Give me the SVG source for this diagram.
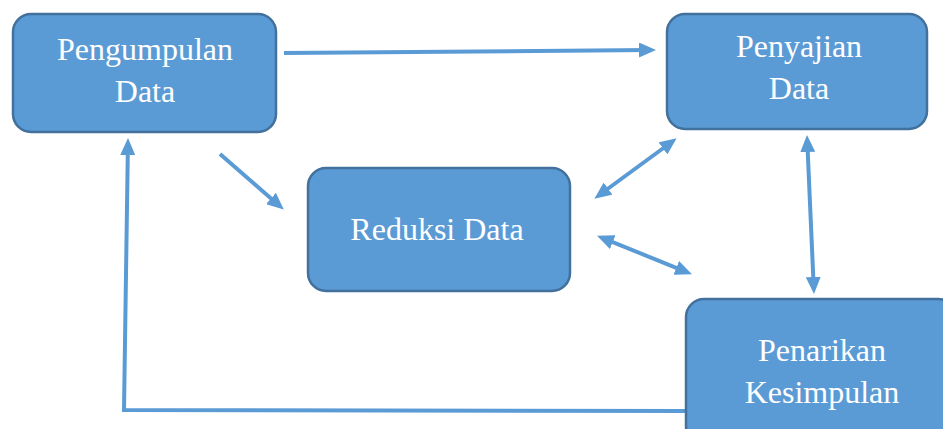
<svg xmlns="http://www.w3.org/2000/svg" width="943" height="429" viewBox="0 0 943 429">
<style>
.box{fill:#5B9BD5;stroke:#41719C;stroke-width:2.5}
.c{fill:none;stroke:#5B9BD5;stroke-width:4}
.t{font-family:"Liberation Serif","Times New Roman",serif;font-size:32px;fill:#fff;text-anchor:middle}
</style>
<defs>
<marker id="ah" markerUnits="userSpaceOnUse" markerWidth="17" markerHeight="15" refX="10" refY="7.5" orient="auto-start-reverse" viewBox="0 0 17 15">
<path d="M0,0 L17,7.5 L0,15 z" fill="#5B9BD5"/>
</marker>
</defs>
<rect width="943" height="429" fill="#fff"/>
<g id="connectors">
<line class="c" x1="284" y1="53" x2="649" y2="50" marker-end="url(#ah)"/>
<line class="c" x1="220" y1="154" x2="278.5" y2="205" marker-end="url(#ah)"/>
<line class="c" x1="600" y1="194.5" x2="671" y2="142.5" marker-start="url(#ah)" marker-end="url(#ah)"/>
<line class="c" x1="603.5" y1="238.3" x2="685.5" y2="271.7" marker-start="url(#ah)" marker-end="url(#ah)"/>
<line class="c" x1="807.3" y1="142" x2="813.7" y2="287" marker-start="url(#ah)" marker-end="url(#ah)"/>
<polyline class="c" points="688,411 124,410 127.9,145" marker-end="url(#ah)"/>
</g>
<g id="pengumpulan">
<rect class="box" x="13" y="14" width="263" height="118" rx="18"/>
<text class="t" x="145" y="60">Pengumpulan</text>
<text class="t" x="145" y="102">Data</text>
</g>
<g id="penyajian">
<rect class="box" x="667" y="14" width="260" height="115" rx="18"/>
<text class="t" x="799" y="57">Penyajian</text>
<text class="t" x="799" y="99">Data</text>
</g>
<g id="reduksi">
<rect class="box" x="308" y="168" width="262" height="123" rx="18"/>
<text class="t" x="437" y="240">Reduksi Data</text>
</g>
<g id="penarikan">
<rect class="box" x="686" y="299" width="270" height="145" rx="18"/>
<text class="t" x="822" y="361">Penarikan</text>
<text class="t" x="822" y="403">Kesimpulan</text>
</g>
</svg>
